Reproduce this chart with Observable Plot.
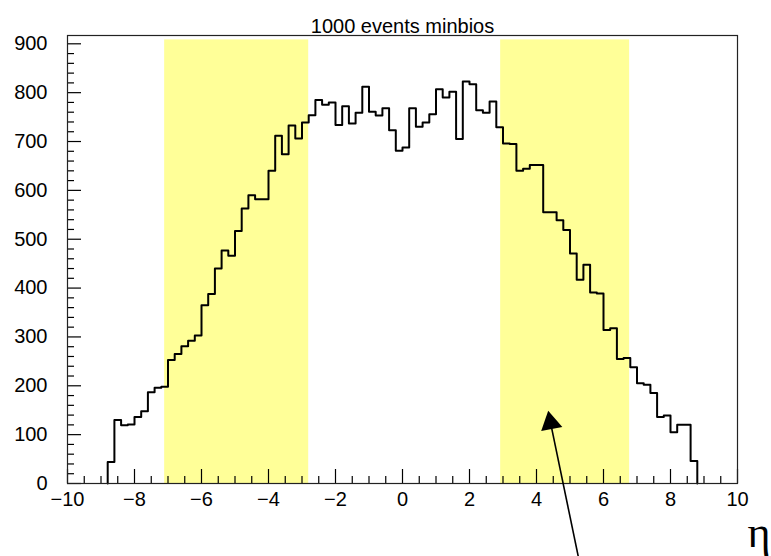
<!DOCTYPE html>
<html><head><meta charset="utf-8">
<script src="https://cdn.jsdelivr.net/npm/d3@7"></script>
<script src="https://cdn.jsdelivr.net/npm/@observablehq/plot@0.6"></script>
<style>
body{margin:0;background:#fff;}
#chart{width:771px;height:556px;overflow:hidden;}
</style>
</head><body><div id="chart"></div>
<script>
const title = "1000 events minbios";
const axisSymbol = "η";

// histogram bin edges (eta) and counts per bin
const binEdges = [-8.8,-8.6,-8.4,-8.2,-8.0,-7.8,-7.6,-7.4,-7.2,-7.0,-6.8,-6.6,-6.4,-6.2,-6.0,-5.8,-5.6,-5.4,-5.2,-5.0,
  -4.8,-4.6,-4.4,-4.2,-4.0,-3.8,-3.6,-3.4,-3.2,-3.0,-2.8,-2.6,-2.4,-2.2,-2.0,-1.8,-1.6,-1.4,-1.2,-1.0,
  -0.8,-0.6,-0.4,-0.2,0.0,0.2,0.4,0.6,0.8,1.0,1.2,1.4,1.6,1.8,2.0,2.2,2.4,2.6,2.8,3.0,
  3.2,3.4,3.6,3.8,4.0,4.2,4.4,4.6,4.8,5.0,5.2,5.4,5.6,5.8,6.0,6.2,6.4,6.6,6.8,7.0,
  7.2,7.4,7.6,7.8,8.0,8.2,8.4,8.6,8.8];
const counts = [44,130,119,121,136,148,187,196,198,253,265,281,292,303,365,388,440,477,466,517,
  563,590,582,582,640,712,674,733,706,739,754,785,775,780,734,772,737,759,812,761,
  753,768,723,681,688,768,730,739,756,807,790,802,705,823,817,764,759,782,729,696,
  695,640,644,652,652,555,555,539,519,471,417,448,391,389,314,318,255,257,238,205,
  202,185,136,139,105,120,120,46];

// yellow acceptance bands
const bandLo = [-7.1, 2.93];
const bandHi = [-2.8, 6.78];
const bandTop = 908;

// ticks
const xLabels = [-10,-8,-6,-4,-2,0,2,4,6,8,10];
const xMinor = [-9.5,-9,-8.5,-7.5,-7,-6.5,-5.5,-5,-4.5,-3.5,-3,-2.5,-1.5,-1,-0.5,0.5,1,1.5,2.5,3,3.5,4.5,5,5.5,6.5,7,7.5,8.5,9,9.5];
const yLabels = [0,100,200,300,400,500,600,700,800,900];
const yMinor = [20,40,60,80,120,140,160,180,220,240,260,280,320,340,360,380,420,440,460,480,
  520,540,560,580,620,640,660,680,720,740,760,780,820,840,860,880];

// annotation arrow (tail below the axis, head inside the right band)
const arrowTail = {x: 5.27, y: -157};
const arrowHead = {x: 4.42, y: 124};

const W = 771, H = 556, mL = 67, mR = 34, mT = 35, mB = 73;
const fw = W - mL - mR, fh = H - mT - mB;

const steps = [{x: binEdges[0], y: 0}];
counts.forEach((c, i) => steps.push({x: binEdges[i], y: c}));
steps.push({x: binEdges[binEdges.length - 1], y: 0});

const bands = bandLo.map((lo, i) => ({lo, hi: bandHi[i]}));

const plot = Plot.plot({
  width: W, height: H,
  marginLeft: mL, marginRight: mR, marginTop: mT, marginBottom: mB,
  style: {fontFamily: "'Liberation Sans', Arial, sans-serif", background: "#fff", color: "#000"},
  x: {domain: [-10, 10], label: null},
  y: {domain: [0, 917], label: null},
  marks: [
    Plot.rect(bands, {x1: "lo", x2: "hi", y1: 0, y2: bandTop, fill: "url(#hatch)"}),
    Plot.tickX(xLabels, {x: d => d, insetTop: fh - 14, stroke: "#000", strokeWidth: 1.2}),
    Plot.tickX(xMinor, {x: d => d, insetTop: fh - 7, stroke: "#000", strokeWidth: 1.2}),
    Plot.tickY(yLabels, {y: d => d, insetRight: fw - 14, stroke: "#000", strokeWidth: 1.2}),
    Plot.tickY(yMinor, {y: d => d, insetRight: fw - 7, stroke: "#000", strokeWidth: 1.2}),
    Plot.axisX({ticks: xLabels, tickSize: 0, tickPadding: 8, fontSize: 20, label: null}),
    Plot.axisY({ticks: yLabels, tickSize: 0, tickPadding: 20, fontSize: 20, label: null}),
    Plot.line(steps, {x: "x", y: "y", curve: "step-after", stroke: "#000", strokeWidth: 2}),
    Plot.frame({stroke: "#222", strokeWidth: 1.2}),
    Plot.text([title], {text: d => d, frameAnchor: "top", dy: -17, fontSize: 20}),
    Plot.text([axisSymbol], {text: d => d, frameAnchor: "bottom-right", textAnchor: "start", dx: 10, dy: 63, fontSize: 44, fontFamily: "'Liberation Serif', serif"}),
    Plot.link([{x1: arrowTail.x, y1: arrowTail.y, x2: arrowHead.x, y2: arrowHead.y}], {x1: "x1", y1: "y1", x2: "x2", y2: "y2", stroke: "#000", strokeWidth: 1.6}),
    Plot.dot([arrowHead], {x: "x", y: "y", symbol: "triangle", r: 8, fill: "#000", stroke: "none", rotate: -11})
  ]
});

const ns = "http://www.w3.org/2000/svg";
const defs = document.createElementNS(ns, "defs");
defs.innerHTML = '<pattern id="hatch" patternUnits="userSpaceOnUse" x="0" y="0.5" width="4" height="2"><rect x="0" y="0" width="4" height="1" fill="#ffff30" shape-rendering="crispEdges"/></pattern>';
plot.insertBefore(defs, plot.firstChild);
document.getElementById("chart").appendChild(plot);
</script>
</body></html>
